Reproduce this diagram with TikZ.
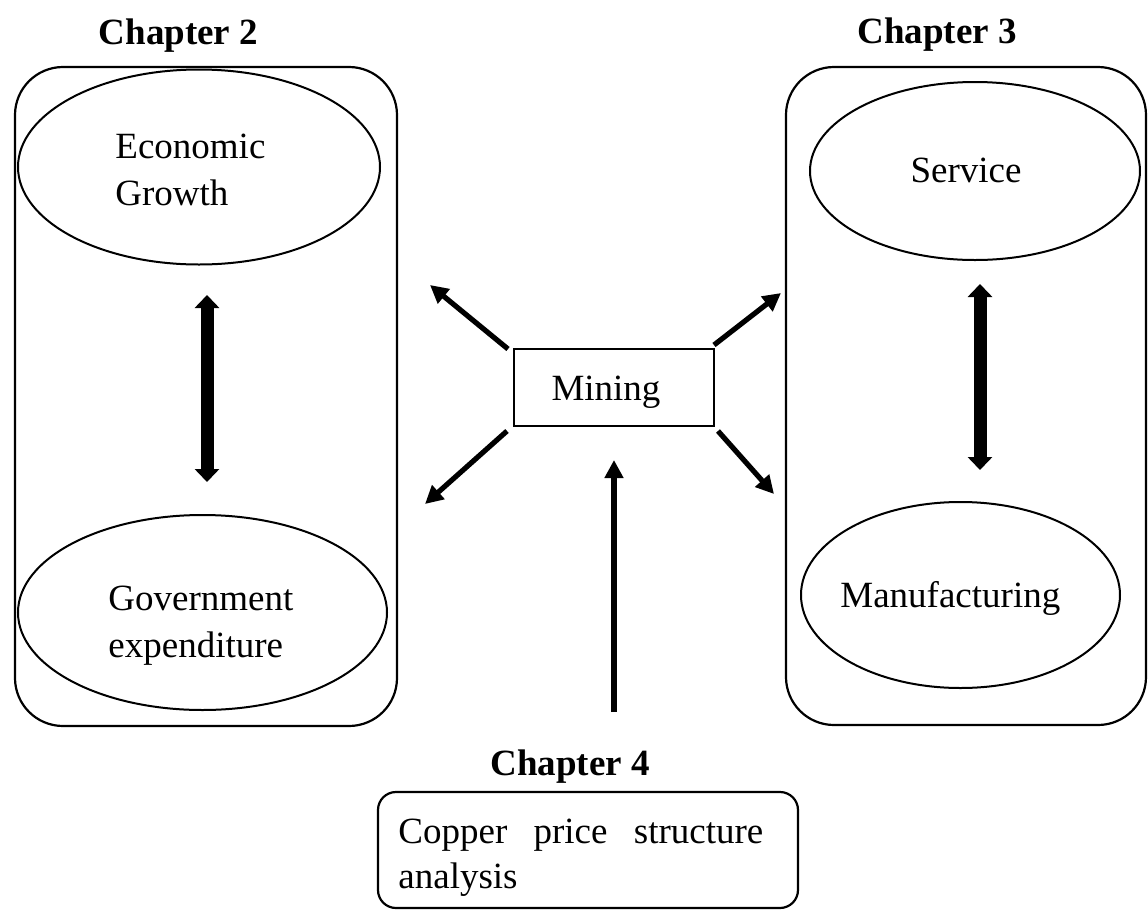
\documentclass[tikz,border=0pt]{standalone}
\usepackage{fontspec}
\setmainfont{Liberation Serif}
\usetikzlibrary{shapes.geometric,arrows.meta}
\begin{document}
\begin{tikzpicture}[x=0.5pt,y=-0.5pt,
  frame/.style={draw,line width=1.1pt,rounded corners=24pt},
  oval/.style={draw,ellipse,line width=1pt,inner sep=0pt},
  txt/.style={inner sep=0pt,anchor=base west,font=\fontsize{18.5pt}{21pt}\selectfont},
  chap/.style={inner sep=0pt,anchor=base,font=\fontsize{18.5pt}{21pt}\selectfont\bfseries},
  diag/.style={line width=2.6pt,-{Triangle[length=9pt,width=9pt]}},
  dbl/.style={line width=6.5pt,{Triangle[length=6.5pt,width=12pt]}-{Triangle[length=6.5pt,width=12pt]}},
  up/.style={line width=2.6pt,-{Triangle[length=9pt,width=9pt]}}]
\useasboundingbox (0,0) rectangle (1148,911);
% frames
\draw[frame] (15,67) rectangle (397,726) coordinate (lf);
\draw[frame] (786,67) rectangle (1146,725) coordinate (rf);
\draw[frame,rounded corners=9pt] (378,792) rectangle (798,908) coordinate (cf);
% ellipses
\node[oval,minimum width=181pt,minimum height=97.5pt] (eg) at (199,167) {};
\node[oval,minimum width=184.5pt,minimum height=97.5pt] (ge) at (202.5,612.5) {};
\node[oval,minimum width=165pt,minimum height=89pt] (sv) at (975,171) {};
\node[oval,minimum width=159.5pt,minimum height=93pt] (mf) at (960.5,595) {};
% mining
\node[draw,line width=1pt,minimum width=100pt,minimum height=38.5pt,inner sep=0pt] (mining) at (614,387.5) {};
% texts
\node[chap] (c2) at (178.5,44) {Chapter 2};
\node[chap] (c3) at (937,43) {Chapter 3};
\node[chap] (c4) at (570,775) {Chapter 4};
\node[txt] (t1) at (115,158) {Economic};
\node[txt] (t2) at (115,205) {Growth};
\node[txt] (t3) at (108,610) {Government};
\node[txt] (t4) at (108,657) {expenditure};
\node[txt,anchor=base] (t5) at (966,182) {Service};
\node[txt] (t6) at (840,607) {Manufacturing};
\node[txt,anchor=base] (t7) at (606,400) {Mining};
\node[txt] (t8) at (398,843) {\hbox to 182.5pt{Copper\hfill price\hfill structure}};
\node[txt] (t9) at (398,888) {analysis};
% arrow coordinates
\coordinate (nwa) at (508,349); \coordinate (nwb) at (430,285);
\coordinate (nea) at (714,345); \coordinate (neb) at (781,293);
\coordinate (swa) at (507,431); \coordinate (swb) at (425,504);
\coordinate (sea) at (718,431); \coordinate (seb) at (774,494);
\coordinate (ua) at (614,712); \coordinate (ub) at (614,460);
\coordinate (la) at (207,295); \coordinate (lb) at (207,482);
\coordinate (ra) at (980,284); \coordinate (rb) at (980,470);
\draw[diag] (nwa) -- (nwb);
\draw[diag] (nea) -- (neb);
\draw[diag] (swa) -- (swb);
\draw[diag] (sea) -- (seb);
\draw[up] (ua) -- (ub);
\draw[dbl] (la) -- (lb);
\draw[dbl] (ra) -- (rb);
\end{tikzpicture}
\end{document}
